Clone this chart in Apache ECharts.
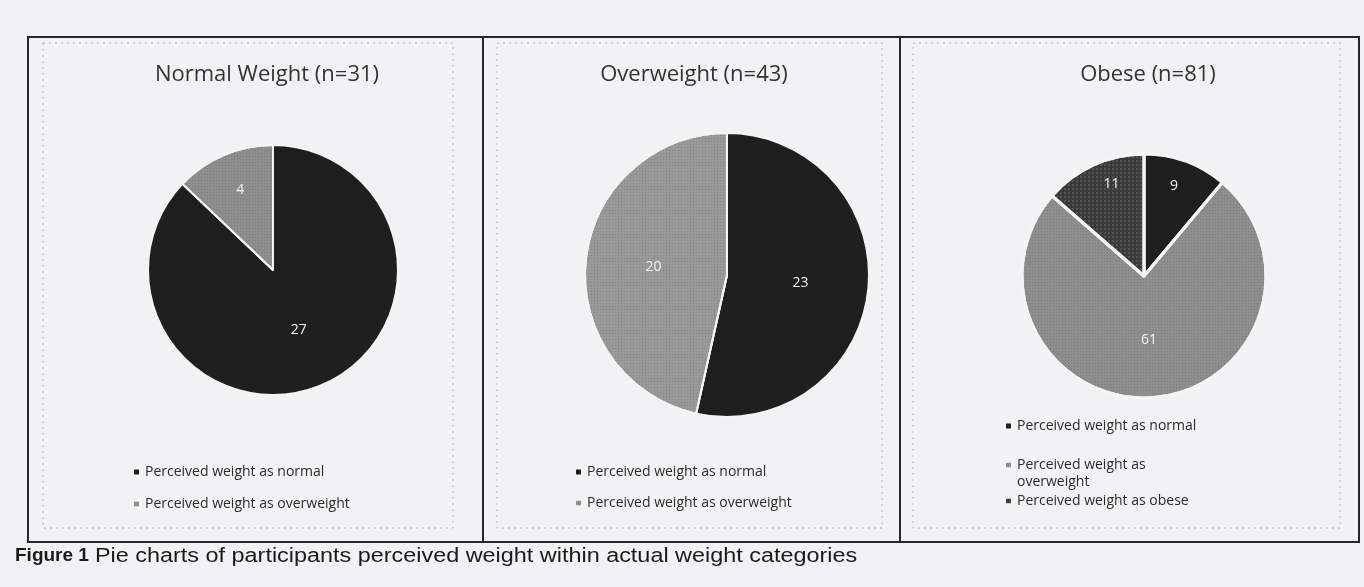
<!DOCTYPE html>
<html>
<head>
<meta charset="utf-8">
<script src="https://cdn.jsdelivr.net/npm/echarts@6/dist/echarts.min.js"></script>
<style>
html, body { margin: 0; padding: 0; background: #f2f2f4; }
#chart { width: 1364px; height: 587px; }
</style>
</head>
<body>
<div id="chart"></div>
<script>
// data
const panelTitles = ['Normal Weight (n=31)', 'Overweight (n=43)', 'Obese (n=81)'];
const catNormal = 'Perceived weight as normal';
const catOver = 'Perceived weight as overweight';
const catObese = 'Perceived weight as obese';
const normalWeightVals = [27, 4];      // normal, overweight
const overweightVals = [23, 20];       // normal, overweight
const obeseVals = [9, 61, 11];         // normal, overweight, obese

const cBlack = '#1f1f1f';
const cGray = '#8e8e8e';
const cDark = '#3a3a3a';

let chart = echarts.init(document.getElementById('chart'));

const labelStyle = {
    show: true,
    position: 'inside',
    formatter: '{c}',
    color: '#f4f4f4',
    fontFamily: 'Open Sans',
    fontSize: 14
};

const grainGray = {
    symbol: 'rect',
    symbolSize: 1,
    color: 'rgba(0,0,0,0.12)',
    dashArrayX: [1, 2],
    dashArrayY: [1, 2]
};
const checker = {
    symbol: 'rect',
    symbolSize: 1,
    color: 'rgba(120,120,120,0.45)',
    dashArrayX: [2, 2],
    dashArrayY: [2, 2]
};

function legendBox(left, top, names, gap, fmt) {
    return {
        orient: 'vertical',
        left: left,
        top: top,
        data: names,
        icon: 'rect',
        itemWidth: 7,
        itemHeight: 7,
        itemGap: gap,
        selectedMode: false,
        formatter: fmt,
        textStyle: {
            fontFamily: 'Open Sans',
            fontSize: 14,
            color: '#2b2b2b',
            lineHeight: 18
        }
    };
}

const option = {
    backgroundColor: '#f2f2f4',
    animation: false,
    title: [
        { text: panelTitles[0], left: 262, top: 59, textAlign: 'center' },
        { text: panelTitles[1], left: 689, top: 59, textAlign: 'center' },
        { text: panelTitles[2], left: 1143, top: 59, textAlign: 'center' }
    ].map(t => Object.assign(t, {
        textStyle: { fontFamily: 'Open Sans', fontSize: 22, fontWeight: 'normal', color: '#333' }
    })),
    legend: [
        legendBox(127, 458, [catNormal, catOver], 14),
        legendBox(569, 458, [catNormal, catOver], 13),
        legendBox(999, 412, [catNormal], 10),
        legendBox(999, 451, [catOver, catObese], 18, function (name) {
            return name === catOver ? 'Perceived weight as' : name;
        })
    ],
    series: [
        {
            type: 'pie',
            center: [273, 270],
            radius: 125,
            startAngle: 90,
            clockwise: true,
            label: labelStyle,
            labelLine: { show: false },
            itemStyle: { borderColor: '#f4f4f4', borderWidth: 2 },
            data: [
                { name: catNormal, value: normalWeightVals[0], itemStyle: { color: cBlack } },
                { name: catOver, value: normalWeightVals[1], itemStyle: { color: cGray, decal: grainGray }, label: { offset: [-7, -20] } }
            ]
        },
        {
            type: 'pie',
            center: [727, 275],
            radius: 142,
            startAngle: 90,
            clockwise: true,
            label: labelStyle,
            labelLine: { show: false },
            itemStyle: { borderColor: '#f4f4f4', borderWidth: 2 },
            data: [
                { name: catNormal, value: overweightVals[0], itemStyle: { color: cBlack } },
                { name: catOver, value: overweightVals[1], itemStyle: { color: '#999999', decal: grainGray } }
            ]
        },
        {
            type: 'pie',
            center: [1144, 276],
            radius: 122,
            startAngle: 90,
            clockwise: true,
            label: labelStyle,
            labelLine: { show: false },
            itemStyle: { borderColor: '#f4f4f4', borderWidth: 3 },
            data: [
                { name: catNormal, value: obeseVals[0], itemStyle: { color: cBlack }, label: { offset: [8, -30] } },
                { name: catOver, value: obeseVals[1], itemStyle: { color: cGray, decal: grainGray } },
                { name: catObese, value: obeseVals[2], itemStyle: { color: cDark, decal: checker }, label: { offset: [-6, -34] } }
            ]
        }
    ],
    graphic: [
        // outer frame and panel dividers
        { type: 'rect', shape: { x: 28, y: 37, width: 1331, height: 505 }, style: { fill: null, stroke: '#262626', lineWidth: 2 } },
        { type: 'line', shape: { x1: 483, y1: 37, x2: 483, y2: 542 }, style: { stroke: '#262626', lineWidth: 2 } },
        { type: 'line', shape: { x1: 900, y1: 37, x2: 900, y2: 542 }, style: { stroke: '#262626', lineWidth: 2 } },
        // dotted chart-area boxes
        { type: 'rect', shape: { x: 43, y: 43, width: 410, height: 485 }, style: { fill: null, stroke: '#b4b4b4', lineWidth: 1, lineDash: [2, 4] } },
        { type: 'rect', shape: { x: 497, y: 43, width: 385, height: 485 }, style: { fill: null, stroke: '#b4b4b4', lineWidth: 1, lineDash: [2, 4] } },
        { type: 'rect', shape: { x: 913, y: 43, width: 427, height: 485 }, style: { fill: null, stroke: '#b4b4b4', lineWidth: 1, lineDash: [2, 4] } },
        // wrapped second line of the third legend entry
        {
            type: 'text', x: 1017, y: 482,
            style: { text: 'overweight', fontFamily: 'Open Sans', fontSize: 14, fill: '#2b2b2b', verticalAlign: 'middle' }
        },
        // caption
        {
            type: 'text', x: 15, y: 556,
            style: { text: 'Figure 1', fontFamily: 'Liberation Sans', fontWeight: 'bold', fontSize: 19, fill: '#1a1a1a', verticalAlign: 'middle' }
        },
        {
            type: 'text', x: 95, y: 556, scaleX: 1.17,
            style: { text: 'Pie charts of participants perceived weight within actual weight categories', fontFamily: 'Liberation Sans', fontSize: 20, fill: '#1a1a1a', verticalAlign: 'middle' }
        }
    ]
};

chart.setOption(option);
window.onresize = chart.resize;
</script>
</body>
</html>
